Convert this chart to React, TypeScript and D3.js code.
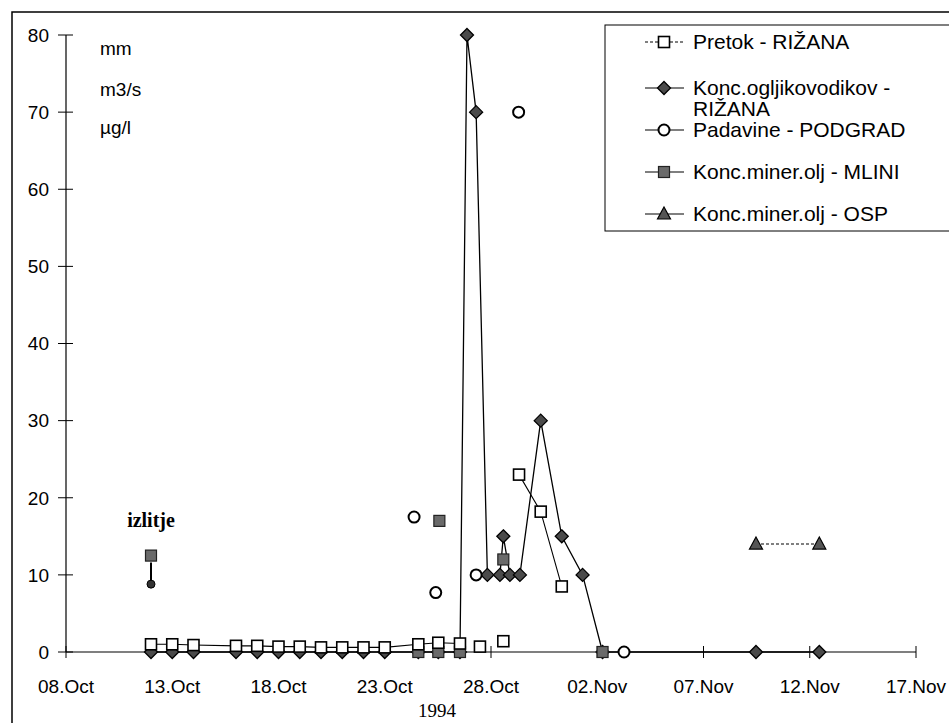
import React from "react";
import * as d3 from "d3";

// Days after 08.Oct 1994 (fractional) and values
const pretokDays = [4, 5, 6, 8, 9, 10, 11, 12, 13, 14, 15, 16.58, 17.52, 18.54, 19.48, 20.58, 21.32, 22.34, 23.33];
const pretokValues = [1.0, 1.0, 0.9, 0.8, 0.8, 0.7, 0.7, 0.6, 0.6, 0.6, 0.6, 1.0, 1.2, 1.1, 0.7, 1.4, 23, 18.2, 8.5];
const pretokSegments = [[0, 13], [14, 14], [15, 15], [16, 18]];

const koncDays = [4, 5, 6, 8, 9, 10, 11, 12, 13, 14, 15, 16.58, 17.52, 18.54, 18.87, 19.3, 19.83, 20.42, 20.58, 20.89, 21.36, 22.34, 23.33, 24.31, 25.25, 32.47, 35.45];
const koncValues = [0, 0, 0, 0, 0, 0, 0, 0, 0, 0, 0, 0, 0, 0, 80, 70, 10, 10, 15, 10, 10, 30, 15, 10, 0, 0, 0];

const padavineDays = [16.38, 17.4, 19.3, 21.3, 26.26];
const padavineValues = [17.5, 7.7, 10, 70, 0];

const mliniDays = [4, 16.58, 17.57, 17.52, 18.54, 20.58, 25.25];
const mliniValues = [12.5, 0, 17, 0, 0, 12, 0];

const ospDays = [32.47, 35.45];
const ospValues = [14, 14];

const spillDays = [4, 4];
const spillValues = [11.6, 8.8];

const xTickDays = [0, 5, 10, 15, 20, 25, 30, 35, 40];
const xTickLabels = ["08.Oct", "13.Oct", "18.Oct", "23.Oct", "28.Oct", "02.Nov", "07.Nov", "12.Nov", "17.Nov"];
const yTicks = [0, 10, 20, 30, 40, 50, 60, 70, 80];
const unitLabels = ["mm", "m3/s", "µg/l"];
const legendLabels = [["Pretok - RIŽANA"], ["Konc.ogljikovodikov -", "RIŽANA"], ["Padavine - PODGRAD"], ["Konc.miner.olj - MLINI"], ["Konc.miner.olj - OSP"]];

const startDate = new Date(1994, 9, 8);
const toDate = (d: number) => new Date(startDate.getTime() + d * 86400000);

const FONT = "'Liberation Sans', Arial, sans-serif";
const SERIF = "'Liberation Serif', 'Times New Roman', serif";

function Marker({ kind, x, y }: { kind: string; x: number; y: number }) {
  if (kind === "square") return <rect x={x - 5.5} y={y - 5.5} width={11} height={11} fill="#fff" stroke="#000" strokeWidth={1.6} />;
  if (kind === "diamond") return <path d={`M${x},${y - 6.5}L${x + 6.5},${y}L${x},${y + 6.5}L${x - 6.5},${y}Z`} fill="#4a4a4a" stroke="#000" strokeWidth={1.3} />;
  if (kind === "circle") return <circle cx={x} cy={y} r={5.5} fill="#fff" stroke="#000" strokeWidth={2} />;
  if (kind === "hsquare") return <rect x={x - 5.5} y={y - 5.5} width={11} height={11} fill="#6a6a6a" stroke="#222" strokeWidth={1.2} />;
  if (kind === "triangle") return <path d={`M${x},${y - 7}L${x + 6.5},${y + 5}L${x - 6.5},${y + 5}Z`} fill="#555" stroke="#000" strokeWidth={1.2} />;
  if (kind === "dot") return <circle cx={x} cy={y} r={4} fill="#333" stroke="#000" strokeWidth={1} />;
  return null;
}

export default function App() {
  const W = 949, H = 723;
  const x = d3.scaleTime().domain([toDate(0), toDate(40)]).range([66, 916]);
  const y = d3.scaleLinear().domain([0, 80]).range([652, 35]);
  const line = d3.line<[number, number]>().x((p) => x(toDate(p[0]))).y((p) => y(p[1]));

  const pts = (days: number[], vals: number[]) => days.map((d, i) => [d, vals[i]] as [number, number]);
  const pretok = pts(pretokDays, pretokValues);
  const konc = pts(koncDays, koncValues);
  const pad = pts(padavineDays, padavineValues);
  const mlini = pts(mliniDays, mliniValues);
  const osp = pts(ospDays, ospValues);
  const spill = pts(spillDays, spillValues);

  const legendRows = [49, 95, 137, 179, 221];
  const legendKinds = ["square", "diamond", "circle", "hsquare", "triangle"];

  return (
    <svg width={W} height={H} style={{ position: "absolute", left: 0, top: 0, background: "#fff" }}>
      <rect x={0} y={0} width={W} height={H} fill="#fff" />
      {/* outer frame */}
      <path d={`M12,${H + 5}V12H${W + 5}`} fill="none" stroke="#000" strokeWidth={1.5} />
      {/* legend box */}
      <rect x={605} y={25} width={400} height={206} fill="#fff" stroke="#000" strokeWidth={1} />
      {/* axes */}
      <line x1={66} x2={66} y1={y(80)} y2={y(0)} stroke="#000" strokeWidth={1.2} />
      <line x1={66} x2={916} y1={y(0)} y2={y(0)} stroke="#000" strokeWidth={1.2} />
      {yTicks.map((t) => (
        <g key={t}>
          <line x1={58} x2={73} y1={y(t)} y2={y(t)} stroke="#000" strokeWidth={1} />
          <text x={49} y={y(t)} dy="0.36em" textAnchor="end" fontFamily={FONT} fontSize={19}>{t}</text>
        </g>
      ))}
      {xTickDays.map((d, i) => (
        <g key={d}>
          <line x1={x(toDate(d))} x2={x(toDate(d))} y1={646} y2={658} stroke="#000" strokeWidth={1} />
          <text x={x(toDate(d))} y={693} textAnchor="middle" fontFamily={FONT} fontSize={19}>{xTickLabels[i]}</text>
        </g>
      ))}
      <text x={437} y={717} textAnchor="middle" fontFamily={SERIF} fontSize={19}>1994</text>
      {unitLabels.map((u, i) => (
        <text key={u} x={100} y={[55, 96, 134][i]} fontFamily={FONT} fontSize={19}>{u}</text>
      ))}
      <text x={x(toDate(4))} y={527} textAnchor="middle" fontFamily={SERIF} fontWeight="bold" fontSize={20}>izlitje</text>

      {/* lines */}
      {pretokSegments.map(([a, b], i) => (
        <path key={i} d={line(pretok.slice(a, b + 1)) || ""} fill="none" stroke="#000" strokeWidth={1.1} />
      ))}
      <path d={line(konc) || ""} fill="none" stroke="#000" strokeWidth={1.3} />
      <path d={line(osp) || ""} fill="none" stroke="#000" strokeWidth={1.1} strokeDasharray="3,2" />
      <path d={line(spill) || ""} fill="none" stroke="#000" strokeWidth={2} />

      {/* markers */}
      {konc.map((p, i) => <Marker key={"k" + i} kind="diamond" x={x(toDate(p[0]))} y={y(p[1])} />)}
      {mlini.map((p, i) => <Marker key={"m" + i} kind="hsquare" x={x(toDate(p[0]))} y={y(p[1])} />)}
      {pretok.map((p, i) => <Marker key={"p" + i} kind="square" x={x(toDate(p[0]))} y={y(p[1])} />)}
      {pad.map((p, i) => <Marker key={"c" + i} kind="circle" x={x(toDate(p[0]))} y={y(p[1])} />)}
      {osp.map((p, i) => <Marker key={"o" + i} kind="triangle" x={x(toDate(p[0]))} y={y(p[1])} />)}
      <Marker kind="dot" x={x(toDate(spill[1][0]))} y={y(spill[1][1])} />

      {/* legend */}
      {legendLabels.map((lab, i) => {
        const ly = legendRows[i] - 7;
        return (
          <g key={i}>
            <line x1={645} x2={684} y1={ly} y2={ly} stroke="#000" strokeWidth={1.2} strokeDasharray={i === 0 ? "3,2" : undefined} />
            <Marker kind={legendKinds[i]} x={664} y={ly} />
            {lab.map((t, j) => (
              <text key={j} x={693} y={legendRows[i] + j * 21} fontFamily={FONT} fontSize={21}>{t}</text>
            ))}
          </g>
        );
      })}
    </svg>
  );
}
